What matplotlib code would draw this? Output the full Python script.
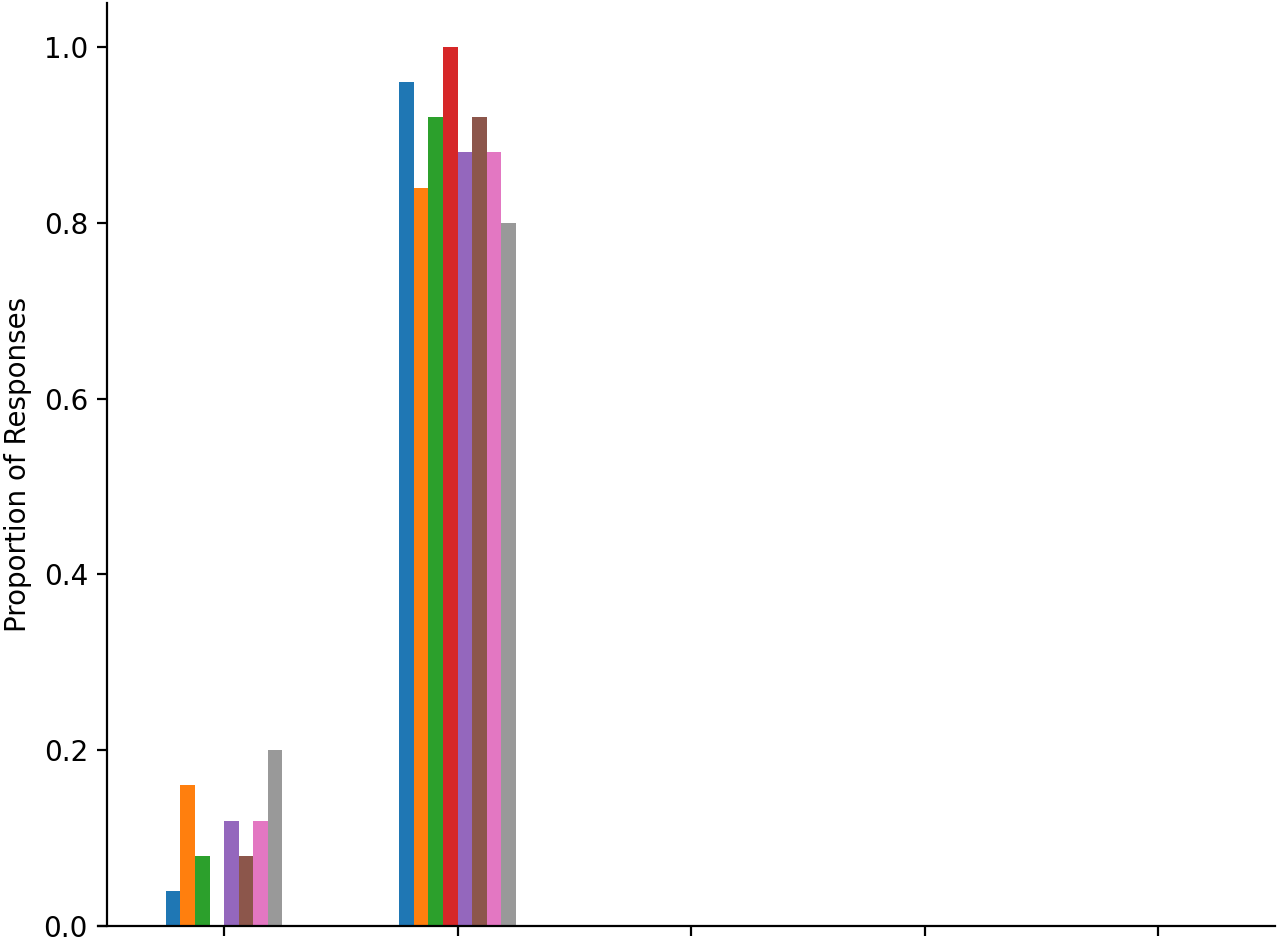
import matplotlib
matplotlib.use("Agg")
import matplotlib.pyplot as plt
import numpy as np

groups = [0, 1, 2, 3, 4]
series_names = ["S1", "S2", "S3", "S4", "S5", "S6", "S7", "S8"]
colors = ["#1f77b4", "#ff7f0e", "#2ca02c", "#d62728", "#9467bd", "#8c564b", "#e377c2", "#999999"]
values = {
    "S1": [0.04, 0.96, 0, 0, 0],
    "S2": [0.16, 0.84, 0, 0, 0],
    "S3": [0.08, 0.92, 0, 0, 0],
    "S4": [0.00, 1.00, 0, 0, 0],
    "S5": [0.12, 0.88, 0, 0, 0],
    "S6": [0.08, 0.92, 0, 0, 0],
    "S7": [0.12, 0.88, 0, 0, 0],
    "S8": [0.20, 0.80, 0, 0, 0],
}

fig = plt.figure(figsize=(6.4, 4.705), dpi=200)
ax = fig.add_axes([98/1280, 15/941, (1275-98)/1280, (926-3)/941])

n = len(series_names)
w = 0.5 / n
x = np.array(groups, dtype=float)
for i, (name, c) in enumerate(zip(series_names, colors)):
    ax.bar(x - 0.25 + w/2 + i*w, values[name], width=w, color=c)

ax.set_xticks(groups)
ax.set_xticklabels([])
ax.set_xlim(-0.54, 4.5)
ax.set_ylim(0, 1.05)
ax.set_ylabel("Proportion of Responses")
ax.spines["top"].set_visible(False)
ax.spines["right"].set_visible(False)
ax.spines["left"].set_position(("data", -0.5))

fig.savefig("out.png", dpi=200)
